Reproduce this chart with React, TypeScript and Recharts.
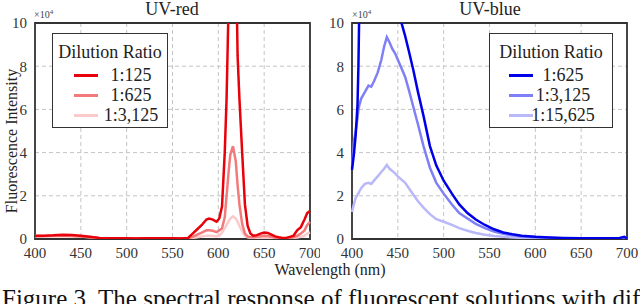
import { CartesianGrid, Line, LineChart, ReferenceArea, XAxis, YAxis } from "recharts";

// wavelengths (nm) and intensities (x10^4)
const redWavelength = [
  400, 410, 420, 430, 440, 450, 460, 470, 480, 490, 500, 510, 520, 530, 540, 550, 560, 567, 572, 577,
  582, 587, 590, 594, 598, 601, 604, 607, 609, 611, 613, 616, 619, 621, 623, 626, 629, 632, 635, 638,
  642, 646, 650, 654, 658, 662, 666, 670, 674, 678, 682, 686, 690, 694, 697, 700,
];
const red125 = [
  0.15, 0.15, 0.17, 0.2, 0.18, 0.15, 0.1, 0.05, 0.04, 0.03, 0.03, 0.02, 0.03, 0.03, 0.04, 0.03, 0.02, 0.05, 0.25, 0.45,
  0.65, 0.9, 0.95, 0.9, 0.8, 0.95, 1.5, 4.0, 6.5, 10.5, 14, 15, 14, 8.5, 6.5, 4.0, 1.6, 0.6, 0.25, 0.15,
  0.18, 0.25, 0.3, 0.28, 0.2, 0.12, 0.08, 0.05, 0.05, 0.1, 0.15, 0.4, 0.55, 0.9, 1.2, 1.3,
];
const red625 = [
  0.12, 0.13, 0.14, 0.15, 0.14, 0.12, 0.08, 0.05, 0.04, 0.03, 0.03, 0.03, 0.03, 0.03, 0.03, 0.03, 0.03, 0.04, 0.1, 0.2,
  0.3, 0.4, 0.4, 0.38, 0.32, 0.4, 0.5, 1.0, 2.0, 3.0, 3.9, 4.3, 3.6, 2.5, 1.6, 0.7, 0.25, 0.12, 0.08, 0.08,
  0.1, 0.13, 0.15, 0.14, 0.1, 0.06, 0.04, 0.03, 0.03, 0.05, 0.08, 0.15, 0.25, 0.4, 0.65, 0.8,
];
const red3125 = [
  0.15, 0.15, 0.15, 0.15, 0.14, 0.12, 0.08, 0.05, 0.04, 0.03, 0.03, 0.03, 0.03, 0.03, 0.03, 0.03, 0.03, 0.03, 0.05, 0.08,
  0.12, 0.15, 0.15, 0.14, 0.13, 0.15, 0.3, 0.5, 0.65, 0.8, 0.95, 1.05, 0.95, 0.8, 0.6, 0.35, 0.15, 0.08, 0.05, 0.04,
  0.04, 0.05, 0.06, 0.05, 0.04, 0.03, 0.03, 0.03, 0.03, 0.04, 0.05, 0.07, 0.1, 0.15, 0.25, 0.3,
];

const blueWavelength = [
  400, 402, 404, 406, 407, 408, 410, 414, 418, 421, 424, 428, 432, 435, 438, 441, 444, 447, 450, 454,
  458, 462, 467, 472, 478, 485, 492, 500, 509, 517, 526, 535, 545, 555, 565, 575, 585, 600, 615, 630,
  650, 670, 690, 697, 700,
];
const blue625 = [
  3.2, 3.9, 4.8, 6.2, 8.0, 10.8, 13, 14, 14, 14, 14, 14, 14, 14, 14, 13.5, 13, 12.5, 11.5, 10.0,
  9.4, 8.7, 7.8, 6.8, 5.7, 4.3, 3.4, 2.7, 2.1, 1.6, 1.2, 0.9, 0.65, 0.45, 0.3, 0.22, 0.15, 0.1, 0.07, 0.05,
  0.04, 0.03, 0.03, 0.1, 0.03,
];
const blue3125 = [
  3.3, 4.5, 5.0, 5.6, 6.0, 6.2, 6.5, 6.8, 7.1, 7.05, 7.3, 7.7, 8.3, 8.9, 9.35, 9.1, 8.8, 8.6, 8.3, 7.9,
  7.5, 6.9, 6.1, 5.3, 4.3, 3.3, 2.6, 2.1, 1.6, 1.2, 0.95, 0.7, 0.5, 0.35, 0.24, 0.17, 0.12, 0.08, 0.06, 0.04,
  0.03, 0.03, 0.03, 0.03, 0.03,
];
const blue15625 = [
  1.25, 1.6, 1.9, 2.05, 2.1, 2.2, 2.35, 2.55, 2.6, 2.55, 2.7, 2.9, 3.1, 3.25, 3.43, 3.25, 3.15, 3.04, 2.9, 2.75,
  2.6, 2.35, 2.05, 1.75, 1.45, 1.15, 0.92, 0.8, 0.65, 0.5, 0.38, 0.28, 0.2, 0.14, 0.1, 0.07, 0.05, 0.03, 0.02, 0.02,
  0.02, 0.02, 0.02, 0.02, 0.02,
];

const xTicks = [400, 450, 500, 550, 600, 650, 700];
const yTicks = [0, 2, 4, 6, 8, 10];

const redLabels = ["1:125", "1:625", "1:3,125"];
const blueLabels = ["1:625", "1:3,125", "1:15,625"];
const redColors = ["#e8000a", "#f27a7a", "#fbcaca"];
const blueColors = ["#0000e8", "#8080f6", "#b9b9fa"];

const FONT =
  "'Liberation Serif', Tinos, 'Times New Roman', 'Nimbus Roman', 'Noto Serif', 'DejaVu Serif', serif";

const redData = redWavelength.map((w, i) => ({ w, a: red125[i], b: red625[i], c: red3125[i] }));
const blueData = blueWavelength.map((w, i) => ({ w, a: blue625[i], b: blue3125[i], c: blue15625[i] }));

interface PanelProps {
  data: { w: number; a: number; b: number; c: number }[];
  colors: string[];
  left: number;
  yAxisWidth: number;
  rightMargin: number;
}

function Panel({ data, colors, left, yAxisWidth, rightMargin }: PanelProps) {
  const tick = { fontSize: 15, fill: "#333", fontFamily: FONT };
  return (
    <div style={{ position: "absolute", left, top: 0 }}>
      <LineChart
        width={320}
        height={304}
        data={data}
        margin={{ top: 23, right: rightMargin, bottom: 45, left: 0 }}
      >
        <CartesianGrid stroke="#c4c4c4" strokeDasharray="4 3" />
        <XAxis
          dataKey="w"
          type="number"
          domain={[400, 700]}
          ticks={xTicks}
          tick={tick}
          tickLine={false}
          axisLine={false}
          height={20}
          interval={0}
        />
        <YAxis
          type="number"
          domain={[0, 10]}
          ticks={yTicks}
          allowDataOverflow
          tick={tick}
          tickLine={false}
          axisLine={false}
          width={yAxisWidth}
          interval={0}
        />
        <Line dataKey="c" stroke={colors[2]} strokeWidth={2.5} dot={false} isAnimationActive={false} />
        <Line dataKey="b" stroke={colors[1]} strokeWidth={2.5} dot={false} isAnimationActive={false} />
        <Line dataKey="a" stroke={colors[0]} strokeWidth={2.5} dot={false} isAnimationActive={false} />
        <ReferenceArea x1={400} x2={700} y1={0} y2={10} fill="none" stroke="#333" strokeWidth={1.8} />
      </LineChart>
    </div>
  );
}

interface LegendBoxProps {
  left: number;
  top: number;
  width: number;
  labels: string[];
  colors: string[];
  sampleLeft: number;
  textCenter: number;
}

function LegendBox({ left, top, width, labels, colors, sampleLeft, textCenter }: LegendBoxProps) {
  return (
    <div
      style={{
        position: "absolute",
        left,
        top,
        width,
        height: 95,
        border: "1px solid #333",
        background: "#fff",
        boxSizing: "border-box",
        fontFamily: FONT,
        color: "#222",
      }}
    >
      <div style={{ position: "absolute", left: 0, width: "100%", top: 8, textAlign: "center", fontSize: 18, lineHeight: "20px" }}>
        Dilution Ratio
      </div>
      {labels.map((l, i) => (
        <div key={l}>
          <div
            style={{
              position: "absolute",
              left: sampleLeft,
              width: 24,
              top: 41 + i * 20 - 1.5,
              height: 3,
              background: colors[i],
            }}
          />
          <div
            style={{
              position: "absolute",
              left: textCenter - 40,
              width: 80,
              top: 41 + i * 20 - 10,
              textAlign: "center",
              fontSize: 18,
              lineHeight: "20px",
            }}
          >
            {l}
          </div>
        </div>
      ))}
    </div>
  );
}

export default function App() {
  return (
    <div
      style={{
        position: "absolute",
        left: 0,
        top: 0,
        width: 640,
        height: 304,
        overflow: "hidden",
        background: "#fff",
        fontFamily: FONT,
      }}
    >
      <Panel data={redData} colors={redColors} left={0} yAxisWidth={35} rightMargin={10} />
      <Panel data={blueData} colors={blueColors} left={320} yAxisWidth={32} rightMargin={13} />
      <LegendBox left={52} top={33} width={116} labels={redLabels} colors={redColors} sampleLeft={21} textCenter={78} />
      <LegendBox left={489} top={33} width={124} labels={blueLabels} colors={blueColors} sampleLeft={19} textCenter={73} />
      <svg
        width={640}
        height={304}
        style={{ position: "absolute", left: 0, top: 0, pointerEvents: "none" }}
        fontFamily={FONT}
        fill="#222"
      >
        <text x={172} y={15} fontSize={18} textAnchor="middle">UV-red</text>
        <text x={490} y={15} fontSize={18} textAnchor="middle">UV-blue</text>
        <text x={34} y={18} fontSize={10} fill="#444">
          ×10<tspan dy={-4} fontSize={7}>4</tspan>
        </text>
        <text x={352} y={18} fontSize={10} fill="#444">
          ×10<tspan dy={-4} fontSize={7}>4</tspan>
        </text>
        <text x={17} y={141} fontSize={16} textAnchor="middle" transform="rotate(-90 17 141)">
          Fluorescence Intensity
        </text>
        <text x={330} y={275} fontSize={16} textAnchor="middle">Wavelength (nm)</text>
        <text x={2} y={307} fontSize={25} fill="#111">
          Figure 3. The spectral response of fluorescent solutions with dif
        </text>
      </svg>
    </div>
  );
}
